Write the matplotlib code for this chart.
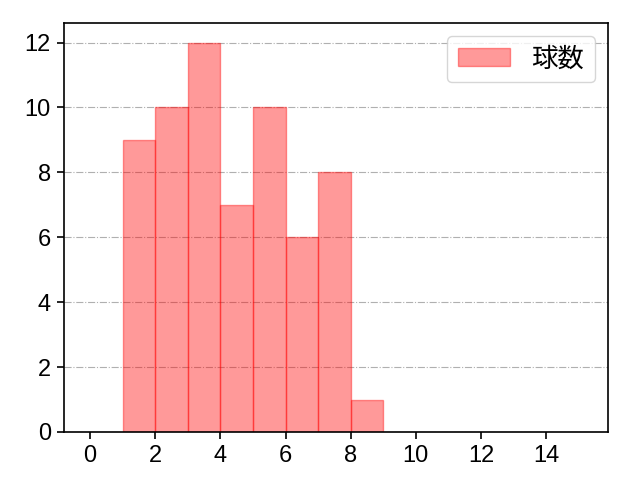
import matplotlib.pyplot as plt

plt.rcParams['font.family'] = ['Liberation Sans', 'Noto Sans CJK JP', 'DejaVu Sans']

# pitch counts per bin
bin_left = [1, 2, 3, 4, 5, 6, 7, 8]
counts = [9, 10, 12, 7, 10, 6, 8, 1]
label = "球数"

fig, ax = plt.subplots(figsize=(6.4, 4.8), dpi=100)
ax.bar(bin_left, counts, width=1, align="edge", color="red", alpha=0.4,
       edgecolor="red", linewidth=1, label=label)
for p in ax.patches:
    p.set_edgecolor((1, 0, 0, 0.6))

ax.set_xlim(-0.8, 15.9)
ax.set_ylim(0, 12.6)
ax.set_xticks(range(0, 16, 2))
ax.set_yticks(range(0, 13, 2))
ax.tick_params(labelsize=17, length=5, width=1.2, pad=4.5)
for s in ax.spines.values():
    s.set_linewidth(1.2)
ax.grid(axis="y", linestyle="-.", color="#b0b0b0", linewidth=0.8)
ax.set_axisbelow(True)
ax.legend(loc="upper right", fontsize=19)

fig.subplots_adjust(left=0.1, right=0.95, bottom=0.1, top=0.952)
fig.savefig("out.png")
